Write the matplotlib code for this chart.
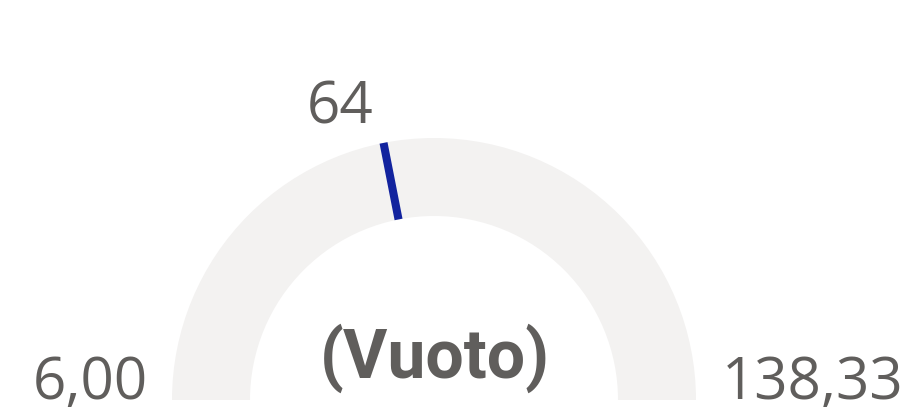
import matplotlib
matplotlib.use("Agg")
import matplotlib.pyplot as plt
from matplotlib.patches import Wedge
import numpy as np

# valori del gauge
min_value = [6.00]
max_value = [138.33]
target_value = [64]
value_label = ["(Vuoto)"]
min_text = ["6,00"]
max_text = ["138,33"]
target_text = ["64"]

W, H = 907, 412
fig = plt.figure(figsize=(W / 100, H / 100), dpi=100)
ax = fig.add_axes([0, 0, 1, 1])
ax.set_xlim(0, W)
ax.set_ylim(0, H)
ax.axis("off")

cx, cy = 434, 12
r_out, r_in = 262, 184
grey = "#605E5C"

# arco di sfondo
ax.add_patch(Wedge((cx, cy), r_out, 0, 180, width=r_out - r_in,
                   facecolor="#F3F2F1", edgecolor="none"))

# linea obiettivo
frac = (target_value[0] - min_value[0]) / (max_value[0] - min_value[0])
theta = np.radians(180 - 180 * frac)
ax.plot([cx + r_in * np.cos(theta), cx + r_out * np.cos(theta)],
        [cy + r_in * np.sin(theta), cy + r_out * np.sin(theta)],
        color="#12239E", lw=5.8, solid_capstyle="butt")

font = "Open Sans"
ax.text(cx - 94, H - 123, target_text[0], ha="center", va="baseline",
        fontsize=42, color=grey, family=font)
ax.text(148, H - 399, min_text[0], ha="right", va="baseline",
        fontsize=42, color=grey, family=font)
ax.text(722, H - 399, max_text[0], ha="left", va="baseline",
        fontsize=42, color=grey, family=font)
ax.text(cx + 1, H - 378, value_label[0], ha="center", va="baseline",
        fontsize=49, color=grey, family="Roboto", fontweight="bold")

fig.savefig("out.png", dpi=100)
